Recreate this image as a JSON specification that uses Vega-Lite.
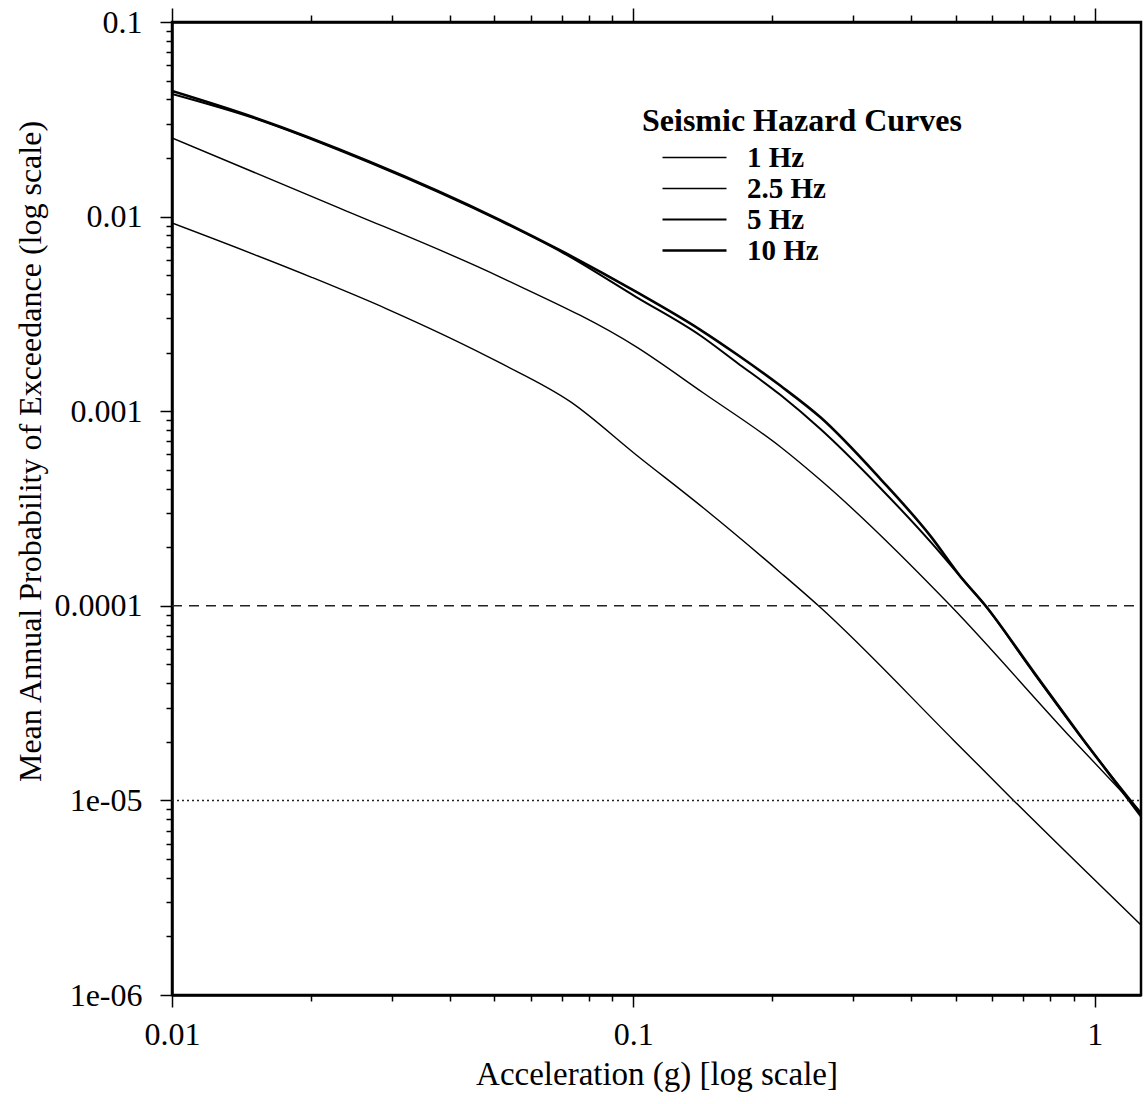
{
  "$schema": "https://vega.github.io/schema/vega-lite/v6.json",
  "width": 969,
  "height": 973,
  "autosize": "none",
  "padding": {"left": 172, "top": 22, "right": 3, "bottom": 109},
  "background": "white",
  "config": {
    "view": {"stroke": "black", "strokeWidth": 2.5},
    "font": "Liberation Serif",
    "axis": {
      "grid": false,
      "labelFont": "Liberation Serif",
      "titleFont": "Liberation Serif",
      "labelColor": "black",
      "titleColor": "black",
      "domainColor": "black",
      "tickColor": "black",
      "labelFontSize": 32,
      "titleFontSize": 33,
      "titleFontWeight": "normal",
      "domainWidth": 2.5,
      "tickWidth": 1.5,
      "labelOverlap": false,
      "labelFlush": false
    }
  },
  "datasets": {
    "curves": [
      {"curve": "10 Hz", "accel": 0.01, "prob": 0.0442},
      {"curve": "10 Hz", "accel": 0.01498, "prob": 0.0325},
      {"curve": "10 Hz", "accel": 0.02689, "prob": 0.0191},
      {"curve": "10 Hz", "accel": 0.05146, "prob": 0.0096},
      {"curve": "10 Hz", "accel": 0.0705, "prob": 0.00658},
      {"curve": "10 Hz", "accel": 0.1015, "prob": 0.0041},
      {"curve": "10 Hz", "accel": 0.1397, "prob": 0.00262},
      {"curve": "10 Hz", "accel": 0.1681, "prob": 0.00195},
      {"curve": "10 Hz", "accel": 0.2085, "prob": 0.00135},
      {"curve": "10 Hz", "accel": 0.2544, "prob": 0.00093},
      {"curve": "10 Hz", "accel": 0.3434, "prob": 0.000448},
      {"curve": "10 Hz", "accel": 0.4408, "prob": 0.000228},
      {"curve": "10 Hz", "accel": 0.512, "prob": 0.000141},
      {"curve": "10 Hz", "accel": 0.58, "prob": 0.0001},
      {"curve": "10 Hz", "accel": 0.7266, "prob": 0.000048},
      {"curve": "10 Hz", "accel": 0.9465, "prob": 0.0000204},
      {"curve": "10 Hz", "accel": 1.26, "prob": 0.0000083},
      {"curve": "5 Hz", "accel": 0.01, "prob": 0.0427},
      {"curve": "5 Hz", "accel": 0.01498, "prob": 0.0322},
      {"curve": "5 Hz", "accel": 0.02689, "prob": 0.0189},
      {"curve": "5 Hz", "accel": 0.05146, "prob": 0.0095},
      {"curve": "5 Hz", "accel": 0.0705, "prob": 0.0065},
      {"curve": "5 Hz", "accel": 0.1015, "prob": 0.00386},
      {"curve": "5 Hz", "accel": 0.1397, "prob": 0.00245},
      {"curve": "5 Hz", "accel": 0.1681, "prob": 0.00177},
      {"curve": "5 Hz", "accel": 0.2085, "prob": 0.00121},
      {"curve": "5 Hz", "accel": 0.2544, "prob": 0.00081},
      {"curve": "5 Hz", "accel": 0.3434, "prob": 0.000402},
      {"curve": "5 Hz", "accel": 0.4408, "prob": 0.000213},
      {"curve": "5 Hz", "accel": 0.512, "prob": 0.000141},
      {"curve": "5 Hz", "accel": 0.58, "prob": 0.0001},
      {"curve": "5 Hz", "accel": 0.7266, "prob": 0.0000475},
      {"curve": "5 Hz", "accel": 0.9465, "prob": 0.0000203},
      {"curve": "5 Hz", "accel": 1.26, "prob": 0.0000086},
      {"curve": "2.5 Hz", "accel": 0.01, "prob": 0.02534},
      {"curve": "2.5 Hz", "accel": 0.0228, "prob": 0.0112},
      {"curve": "2.5 Hz", "accel": 0.05146, "prob": 0.00489},
      {"curve": "2.5 Hz", "accel": 0.1015, "prob": 0.00214},
      {"curve": "2.5 Hz", "accel": 0.1419, "prob": 0.00124},
      {"curve": "2.5 Hz", "accel": 0.2085, "prob": 0.000655},
      {"curve": "2.5 Hz", "accel": 0.2544, "prob": 0.000443},
      {"curve": "2.5 Hz", "accel": 0.4872, "prob": 0.0001},
      {"curve": "2.5 Hz", "accel": 0.8738, "prob": 0.0000219},
      {"curve": "2.5 Hz", "accel": 1.26, "prob": 0.0000087},
      {"curve": "1 Hz", "accel": 0.01, "prob": 0.00927},
      {"curve": "1 Hz", "accel": 0.02002, "prob": 0.00489},
      {"curve": "1 Hz", "accel": 0.02927, "prob": 0.00335},
      {"curve": "1 Hz", "accel": 0.05146, "prob": 0.00177},
      {"curve": "1 Hz", "accel": 0.073, "prob": 0.00112},
      {"curve": "1 Hz", "accel": 0.1015, "prob": 0.000596},
      {"curve": "1 Hz", "accel": 0.1419, "prob": 0.000318},
      {"curve": "1 Hz", "accel": 0.2085, "prob": 0.000148},
      {"curve": "1 Hz", "accel": 0.252, "prob": 0.0001},
      {"curve": "1 Hz", "accel": 0.4944, "prob": 0.0000204},
      {"curve": "1 Hz", "accel": 0.667, "prob": 0.00001},
      {"curve": "1 Hz", "accel": 1.26, "prob": 0.00000229}
    ],
    "refs": [
      {"kind": "dashed", "p": 0.0001, "from": 0.01, "to": 1.26},
      {"kind": "dotted", "p": 0.00001, "from": 0.01, "to": 1.26}
    ]
  },
  "layer": [
    {
      "data": {"name": "curves"},
      "mark": {"type": "line", "clip": true, "color": "black", "interpolate": "monotone"},
      "encoding": {
        "x": {
          "field": "accel",
          "type": "quantitative",
          "scale": {"type": "log", "domain": [0.01, 1.26], "nice": false},
          "axis": {
            "orient": "bottom",
            "values": [0.01, 0.02, 0.03, 0.04, 0.05, 0.06, 0.07, 0.08, 0.09, 0.1, 0.2, 0.3, 0.4, 0.5, 0.6, 0.7, 0.8, 0.9, 1],
            "labelExpr": "datum.value == 0.01 ? '0.01' : datum.value == 0.1 ? '0.1' : datum.value == 1 ? '1' : ''",
            "tickSize": {"condition": {"test": "abs(log(datum.value)/LN10 - round(log(datum.value)/LN10)) < 0.001", "value": 12}, "value": 6},
            "labelPadding": 12,
            "title": "Acceleration (g) [log scale]",
            "titlePadding": 8
          }
        },
        "y": {
          "field": "prob",
          "type": "quantitative",
          "scale": {"type": "log", "domain": [0.000001, 0.1], "nice": false},
          "axis": {
            "orient": "left",
            "values": [0.000001, 0.000002, 0.000003, 0.000004, 0.000005, 0.000006, 0.000007, 0.000008, 0.000009, 0.00001, 0.00002, 0.00003, 0.00004, 0.00005, 0.00006, 0.00007, 0.00008, 0.00009, 0.0001, 0.0002, 0.0003, 0.0004, 0.0005, 0.0006, 0.0007, 0.0008, 0.0009, 0.001, 0.002, 0.003, 0.004, 0.005, 0.006, 0.007, 0.008, 0.009, 0.01, 0.02, 0.03, 0.04, 0.05, 0.06, 0.07, 0.08, 0.09, 0.1],
            "labelExpr": "datum.value == 0.1 ? '0.1' : datum.value == 0.01 ? '0.01' : datum.value == 0.001 ? '0.001' : datum.value == 0.0001 ? '0.0001' : datum.value == 0.00001 ? '1e-05' : datum.value == 0.000001 ? '1e-06' : ''",
            "tickSize": {"condition": {"test": "abs(log(datum.value)/LN10 - round(log(datum.value)/LN10)) < 0.001", "value": 12}, "value": 6},
            "labelPadding": 18,
            "title": "Mean Annual Probability of Exceedance (log scale)",
            "titleFontSize": 32,
            "titleX": -125,
            "titleY": 429
          }
        },
        "strokeWidth": {
          "field": "curve",
          "type": "nominal",
          "scale": {"type": "ordinal", "domain": ["1 Hz", "2.5 Hz", "5 Hz", "10 Hz"], "range": [1.4, 1.4, 2, 2.6]},
          "legend": {
            "orient": "none",
            "legendX": 470,
            "legendY": 84,
            "title": "Seismic Hazard Curves",
            "titleLimit": 0,
            "titleFont": "Liberation Serif",
            "titleFontSize": 32,
            "titleFontWeight": "bold",
            "titleColor": "black",
            "titlePadding": 5,
            "labelFont": "Liberation Serif",
            "labelFontSize": 29,
            "labelFontWeight": "bold",
            "labelColor": "black",
            "symbolType": "M-4,0H4",
            "symbolSize": 256,
            "symbolStrokeColor": "black",
            "symbolOffset": 38,
            "labelOffset": 38,
            "rowPadding": 1,
            "padding": 0
          }
        }
      }
    },
    {
      "data": {"name": "refs"},
      "mark": {"type": "rule", "color": "#222222", "strokeWidth": 1.5},
      "encoding": {
        "x": {
          "field": "from",
          "type": "quantitative",
          "scale": {"type": "log", "domain": [0.01, 1.26], "nice": false},
          "axis": {
            "orient": "top",
            "values": [0.01, 0.02, 0.03, 0.04, 0.05, 0.06, 0.07, 0.08, 0.09, 0.1, 0.2, 0.3, 0.4, 0.5, 0.6, 0.7, 0.8, 0.9, 1],
            "labels": false,
            "title": null,
            "tickSize": {"condition": {"test": "abs(log(datum.value)/LN10 - round(log(datum.value)/LN10)) < 0.001", "value": 14}, "value": 7}
          }
        },
        "x2": {"field": "to"},
        "y": {"field": "p", "type": "quantitative", "scale": {"type": "log"}, "axis": null},
        "strokeDash": {
          "field": "kind",
          "type": "nominal",
          "scale": {"domain": ["dashed", "dotted"], "range": [[10, 7], [2, 3]]},
          "legend": null
        }
      }
    }
  ],
  "resolve": {"axis": {"x": "independent", "y": "independent"}}
}
